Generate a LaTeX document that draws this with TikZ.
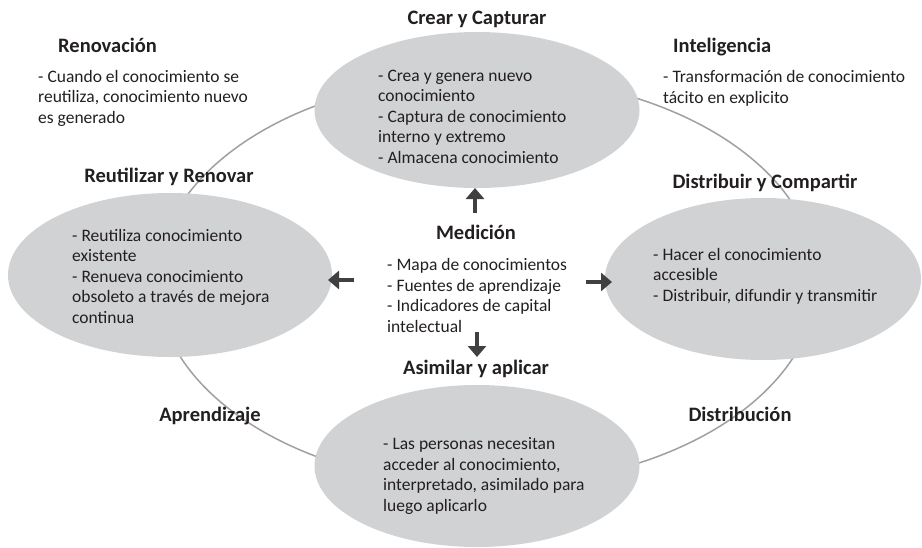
\documentclass[tikz,border=0pt]{standalone}
\usepackage{fontspec}
\setmainfont{Carlito}
\usetikzlibrary{shapes.geometric,arrows.meta}
\definecolor{blobfill}{RGB}{209,210,212}
\definecolor{ringcol}{RGB}{160,160,160}
\definecolor{arrcol}{RGB}{64,64,64}
\definecolor{txtcol}{RGB}{35,31,32}
\tikzset{
  blob/.style={ellipse, fill=blobfill, draw=none, inner sep=0pt},
  ring/.style={draw=ringcol, line width=1.5pt},
  ttl/.style={anchor=base, inner sep=0pt, text=txtcol, font=\fontsize{20.5}{22}\selectfont\bfseries},
  ttlw/.style={anchor=base west, inner sep=0pt, text=txtcol, font=\fontsize{20.5}{22}\selectfont\bfseries},
  body/.style={anchor=base west, inner sep=0pt, text=txtcol, align=left, font=\fontsize{17.5}{20.5}\selectfont},
  bigarrow/.style={draw=arrcol, line width=4.5pt, -{Triangle[width=18pt,length=11pt]}}
}
\begin{document}
\begin{tikzpicture}[x=1pt,y=-1pt]
\useasboundingbox (0,0) rectangle (922,547);
% background cycle ring
\draw[ring] (487,281) ellipse [x radius=330, y radius=205];
% ellipses
\node[blob, minimum width=325pt, minimum height=156pt] (top) at (477,110) {};
\node[blob, minimum width=324pt, minimum height=164pt] (left) at (170,275) {};
\node[blob, minimum width=316pt, minimum height=162pt] (right) at (763,279) {};
\node[blob, minimum width=325pt, minimum height=162pt] (bottom) at (477,466) {};
% titles
\node[ttl] (tcrear) at (477,24) {Crear y Capturar};
\node[ttlw] (trenov) at (58,52) {Renovación};
\node[ttlw] (tintel) at (673,52) {Inteligencia};
\node[ttl] (treut) at (169,182) {Reutilizar y Renovar};
\node[ttl] (tdist) at (765,188) {Distribuir y Compartir};
\node[ttl] (tmed) at (476,239) {Medición};
\node[ttl] (tasim) at (476,374) {Asimilar y aplicar};
\node[ttl] (taprend) at (210,421) {Aprendizaje};
\node[ttl] (tdistrib) at (740,421) {Distribución};
% bodies (anchor = baseline of last line)
\node[body] (btop) at (378,163) {- Crea y genera nuevo\\conocimiento\\- Captura de conocimiento\\interno y extremo\\- Almacena conocimiento};
\node[body] (brenov) at (38,123) {- Cuando el conocimiento se\\reutiliza, conocimiento nuevo\\es generado};
\node[body] (bintel) at (663,103) {- Transformación de conocimiento\\tácito en explicito};
\node[body] (bleft) at (72,323) {- Reutiliza conocimiento\\existente\\- Renueva conocimiento\\obsoleto a través de mejora\\continua};
\node[body] (bright) at (653,301) {- Hacer el conocimiento\\accesible\\- Distribuir, difundir y transmitir};
\node[body] (bmed) at (387,332) {- Mapa de conocimientos\\- Fuentes de aprendizaje\\- Indicadores de capital\\intelectual};
\node[body] (bbottom) at (383,511) {- Las personas necesitan\\acceder al conocimiento,\\interpretado, asimilado para\\luego aplicarlo};
% arrows
\coordinate (upS) at (475,213);
\coordinate (upE) at (475,188);
\coordinate (lfS) at (354,280);
\coordinate (lfE) at (328,280);
\coordinate (rtS) at (586,282);
\coordinate (rtE) at (612,282);
\coordinate (dnS) at (477,332);
\coordinate (dnE) at (477,357);
\draw[bigarrow] (upS) -- (upE);
\draw[bigarrow] (lfS) -- (lfE);
\draw[bigarrow] (rtS) -- (rtE);
\draw[bigarrow] (dnS) -- (dnE);
\end{tikzpicture}
\end{document}
